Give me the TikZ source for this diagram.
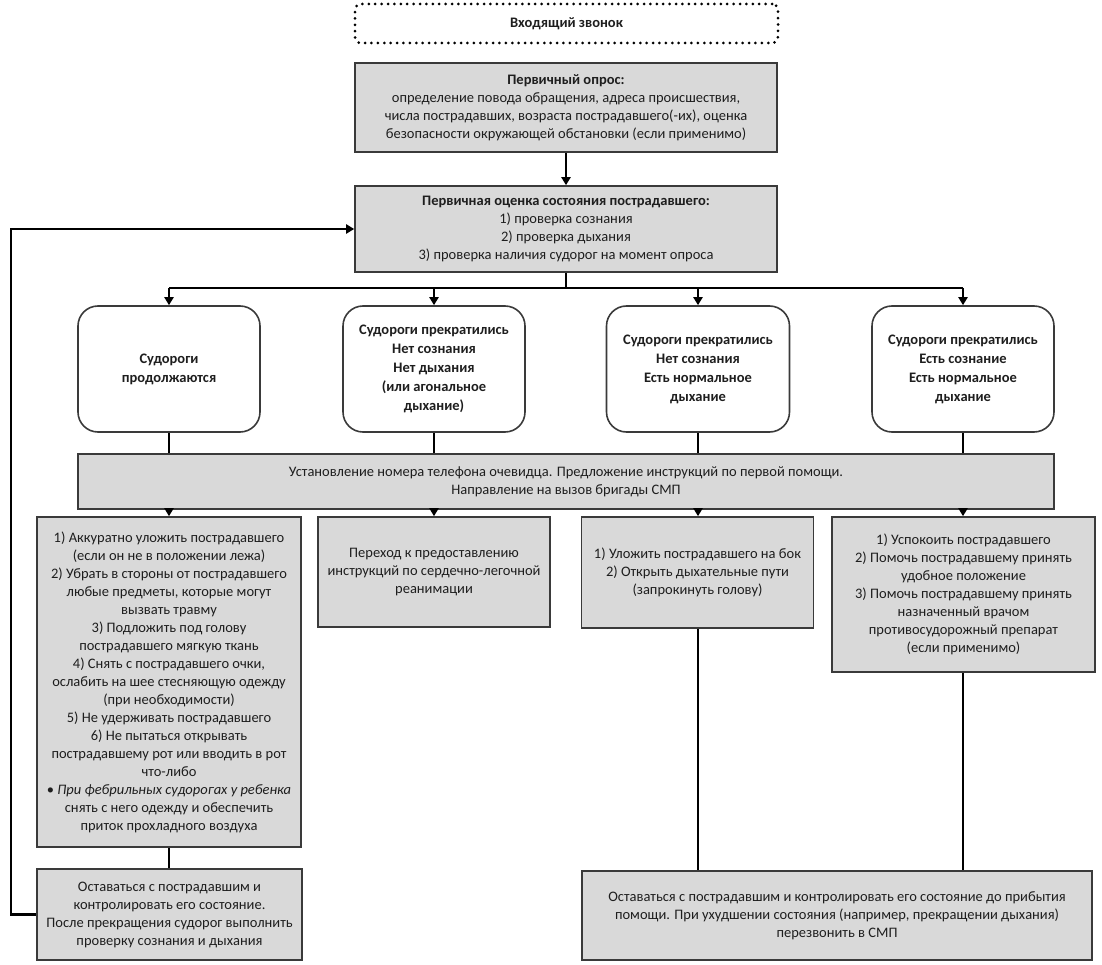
\documentclass[tikz,border=0pt]{standalone}
\usepackage{fontspec}
\setmainfont{Carlito}
\usetikzlibrary{arrows.meta}
\definecolor{boxgray}{HTML}{D9D9D9}
\definecolor{edge}{HTML}{3A3A3A}
\definecolor{txt}{HTML}{1E1E1E}
\begin{document}
\begin{tikzpicture}[x=1pt,y=-1pt,
  base/.style={align=center,inner sep=0pt,text=txt,font=\fontsize{14.5}{18}\selectfont},
  graybox/.style={base,draw=edge,line width=1.6pt,fill=boxgray},
  roundbox/.style={base,draw=edge,line width=1.6pt,fill=white,rounded corners=20pt,font=\fontsize{14.5}{19}\selectfont\bfseries},
  callbox/.style={base,draw=black,line width=3pt,dash pattern=on 0pt off 6.4pt,line cap=round,rounded corners=6pt,font=\fontsize{14.5}{18}\selectfont\bfseries},
  conn/.style={draw=black,line width=2.8pt},
  arr/.style={conn,-{Triangle[length=8pt,width=9pt]}}
]
\useasboundingbox (0,0) rectangle (1102,965);

\node[callbox,minimum width=423pt,minimum height=39pt] (call) at (566.5,23.5) {Входящий звонок};

\node[graybox,minimum width=422pt,minimum height=89pt] (survey) at (566,107.5)
  {\textbf{Первичный опрос:}\\определение повода обращения, адреса происшествия,\\числа пострадавших, возраста пострадавшего(-их), оценка\\безопасности окружающей обстановки (если применимо)};

\node[graybox,minimum width=422pt,minimum height=86pt] (assess) at (566,229)
  {\textbf{Первичная оценка состояния пострадавшего:}\\1)\ проверка сознания\\2)\ проверка дыхания\\3)\ проверка наличия судорог на момент опроса};

\node[roundbox,minimum width=182pt,minimum height=126pt] (r1) at (169,369) {Судороги\\продолжаются};
\node[roundbox,minimum width=182pt,minimum height=126pt] (r2) at (434,369) {Судороги прекратились\\Нет сознания\\Нет дыхания\\(или агональное\\дыхание)};
\node[roundbox,minimum width=183pt,minimum height=126pt] (r3) at (698,369) {Судороги прекратились\\Нет сознания\\Есть нормальное\\дыхание};
\node[roundbox,minimum width=182pt,minimum height=126pt] (r4) at (963,369) {Судороги прекратились\\Есть сознание\\Есть нормальное\\дыхание};

\node[graybox,minimum width=976pt,minimum height=55pt] (bar) at (566,481.5)
  {Установление номера телефона очевидца. Предложение инструкций по первой помощи.\\Направление на вызов бригады СМП};

\node[graybox,minimum width=264pt,minimum height=330pt] (A) at (169,682)
  {1) Аккуратно уложить пострадавшего\\(если он не в положении лежа)\\2) Убрать в стороны от пострадавшего\\любые предметы, которые могут\\вызвать травму\\3) Подложить под голову\\пострадавшего мягкую ткань\\4) Снять с пострадавшего очки,\\ослабить на шее стесняющую одежду\\(при необходимости)\\5) Не удерживать пострадавшего\\6) Не пытаться открывать\\пострадавшему рот или вводить в рот\\что-либо\\• \textit{При фебрильных судорогах у ребенка}\\снять с него одежду и обеспечить\\приток прохладного воздуха};

\node[graybox,minimum width=232pt,minimum height=110pt] (B) at (434,572)
  {Переход к предоставлению\\инструкций по сердечно-легочной\\реанимации};

\node[graybox,minimum width=232pt,minimum height=111pt] (C) at (697.5,572.5)
  {1) Уложить пострадавшего на бок\\2) Открыть дыхательные пути\\(запрокинуть голову)};

\node[graybox,minimum width=263pt,minimum height=155pt] (D) at (963.5,594.5)
  {1) Успокоить пострадавшего\\2) Помочь пострадавшему принять\\удобное положение\\3) Помочь пострадавшему принять\\назначенный врачом\\противосудорожный препарат\\(если применимо)};

\node[graybox,minimum width=265pt,minimum height=91pt] (E) at (169.5,914.5)
  {Оставаться с пострадавшим и\\контролировать его состояние.\\После прекращения судорог выполнить\\проверку сознания и дыхания};

\node[graybox,minimum width=510pt,minimum height=89pt] (F) at (837,915.5)
  {Оставаться с пострадавшим и контролировать его состояние до прибытия\\помощи. При ухудшении состояния (например, прекращении дыхания)\\перезвонить в СМП};

\coordinate (hub) at (566,288);
\coordinate (fb1) at (11,914.5);
\coordinate (fb2) at (11,229);

\draw[arr] (survey.south) -- (assess.north);
\draw[conn] (assess.south) -- (hub);
\draw[conn] (hub -| r1.north) -- (hub -| r4.north);
\draw[arr] (hub -| r1.north) -- (r1.north);
\draw[arr] (hub -| r2.north) -- (r2.north);
\draw[arr] (hub -| r3.north) -- (r3.north);
\draw[arr] (hub -| r4.north) -- (r4.north);

\foreach \r in {r1,r2,r3,r4} \draw[conn] (\r.south) -- (\r.south |- bar.north);

\draw[arr] (bar.south -| r1.south) -- (A.north -| r1.south);
\draw[arr] (bar.south -| r2.south) -- (B.north -| r2.south);
\draw[arr] (bar.south -| r3.south) -- (C.north -| r3.south);
\draw[arr] (bar.south -| r4.south) -- (D.north -| r4.south);

\draw[conn] (A.south -| r1.south) -- (E.north -| r1.south);
\draw[conn] (C.south -| r3.south) -- (F.north -| r3.south);
\draw[conn] (D.south -| r4.south) -- (F.north -| r4.south);

\draw[arr,line join=miter] (E.west) -- (fb1) -- (fb2) -- (assess.west);
\end{tikzpicture}
\end{document}
